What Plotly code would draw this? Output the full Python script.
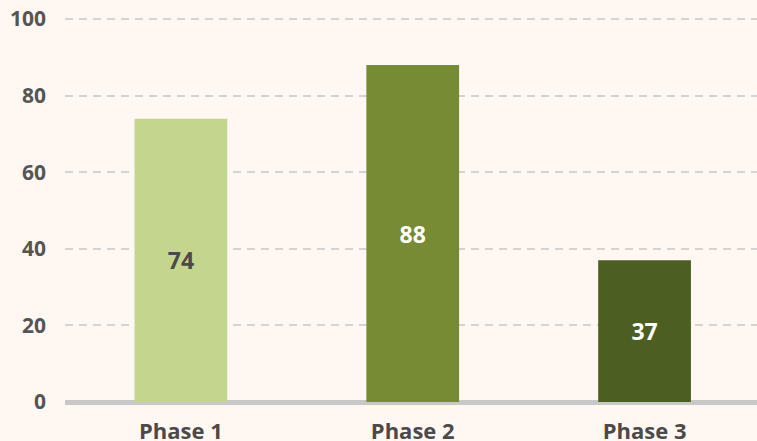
import plotly.graph_objects as go

categories = ["Phase 1", "Phase 2", "Phase 3"]
values = [74, 88, 37]
bar_colors = ["#c4d68d", "#768b33", "#4c5e22"]
label_colors = ["#4a4a4a", "#ffffff", "#ffffff"]
y_ticks = [0, 20, 40, 60, 80, 100]

FONT = "Open Sans"

fig = go.Figure()
fig.add_trace(go.Bar(
    x=categories,
    y=values,
    marker=dict(color=bar_colors, line=dict(width=0)),
    width=0.4,
    text=[str(v) for v in values],
    textposition="inside",
    insidetextanchor="middle",
    textangle=0,
    textfont=dict(family=FONT, size=23, color=label_colors, weight="bold"),
    hoverinfo="skip",
))

fig.update_layout(
    width=757, height=441,
    margin=dict(l=64.5, r=0, t=16, b=39, pad=0, autoexpand=False),
    paper_bgcolor="#fff8f2",
    plot_bgcolor="#fff8f2",
    showlegend=False,
    bargap=0.6,
    uniformtext=dict(mode=False),
)

fig.update_xaxes(
    range=[-0.5, 2.485],
    automargin=False,
    showgrid=False,
    showline=False,
    zeroline=False,
    ticks="",
    tickfont=dict(family=FONT, size=22, color="#4a4a4a", weight="bold"),
    ticklabelstandoff=14,
)

fig.update_yaxes(
    range=[0, 100.8],
    automargin=False,
    tickvals=y_ticks,
    showgrid=True,
    gridcolor="#d3d3d3",
    gridwidth=2,
    griddash="8px,6px",
    zeroline=True,
    zerolinecolor="#c8c8c8",
    zerolinewidth=5,
    showline=False,
    ticks="",
    ticklabelstandoff=18,
    tickfont=dict(family=FONT, size=21, color="#555555", weight="bold"),
)

fig.write_html(
    "out.html",
    config={"displayModeBar": False},
    post_script="document.body.style.margin='0';document.body.style.background='#fff8f2';",
)
